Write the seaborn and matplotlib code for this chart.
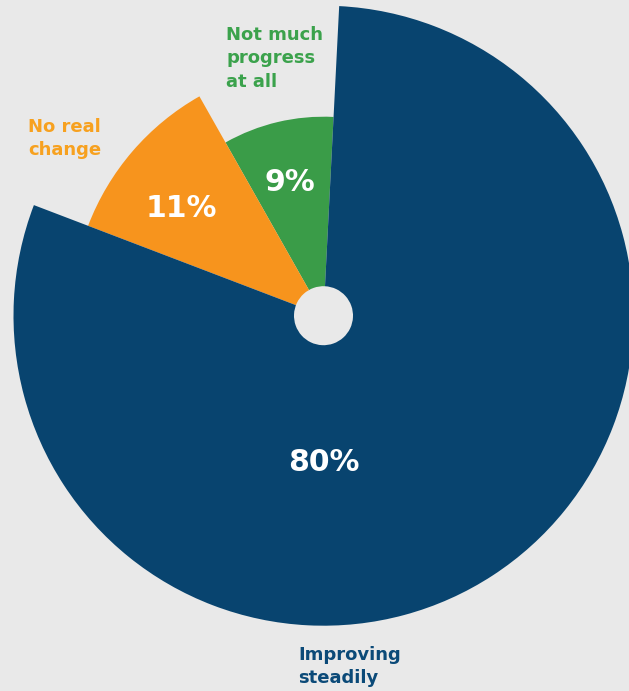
import numpy as np
import pandas as pd
import matplotlib
matplotlib.use("Agg")
import matplotlib.pyplot as plt
import seaborn as sns

# Survey answers, in drawing order (counter-clockwise from the top)
categories = ["Not much\nprogress\nat all", "No real\nchange", "Improving\nsteadily"]
shares = [9, 11, 80]
value_labels = ["9%", "11%", "80%"]

# Styling: slice colours, label colours and outer radius of each slice (px)
slice_colors = ["#3a9c48", "#f7941d", "#08446f"]
label_colors = ["#3ba24c", "#f7a11f", "#0b4a78"]
slice_radius = [199, 252, 310]

BG = "#e9e9e9"
W, H = 629, 691
CX, CY = 323.5, 315.7   # centre of the rose, pixels from top-left
RMAX = 312
HOLE = 29.5

sns.set_theme(style="white", rc={"figure.facecolor": BG, "axes.facecolor": BG})
plt.rcParams["font.family"] = ["DejaVu Sans"]

df = pd.DataFrame({"category": categories, "share": shares,
                   "label": value_labels, "color": slice_colors,
                   "radius": slice_radius})
df["width"] = df["share"] / df["share"].sum() * 2 * np.pi
df["start"] = df["width"].cumsum() - df["width"]

fig = plt.figure(figsize=(W / 100, H / 100), dpi=100)
ax = fig.add_axes([(CX - RMAX) / W, (H - CY - RMAX) / H, 2 * RMAX / W, 2 * RMAX / H],
                  projection="polar")
ax.set_theta_zero_location("N", offset=-2.9)
ax.set_theta_direction(1)
ax.set_ylim(0, RMAX)
ax.set_facecolor(BG)
ax.axis("off")

ax.bar(df["start"], df["radius"], width=df["width"], align="edge",
       color=df["color"], linewidth=0)
# centre hole
ax.bar(0, HOLE, width=2 * np.pi, bottom=0, color=BG, linewidth=0, zorder=3)

# percentage labels inside the slices (angle in degrees from the rose's zero, radius)
inner_pos = [(16.9, 137), (55.8, 178), (182.9, 147)]
for (ang, r), txt in zip(inner_pos, df["label"]):
    ax.text(np.deg2rad(ang), r, txt, ha="center", va="center", color="white",
            fontsize=21.5, fontweight="bold", zorder=4)

# category labels outside the slices (pixel positions of the first line's left/top)
outer_pos = [(226, 26), (28, 118), (298, 646)]
for (x, y), txt, c in zip(outer_pos, df["category"], label_colors):
    fig.text(x / W, 1 - y / H, txt, ha="left", va="top", color=c,
             fontsize=13, fontweight="bold", linespacing=1.38)

fig.savefig("out.png", dpi=100, facecolor=BG)
